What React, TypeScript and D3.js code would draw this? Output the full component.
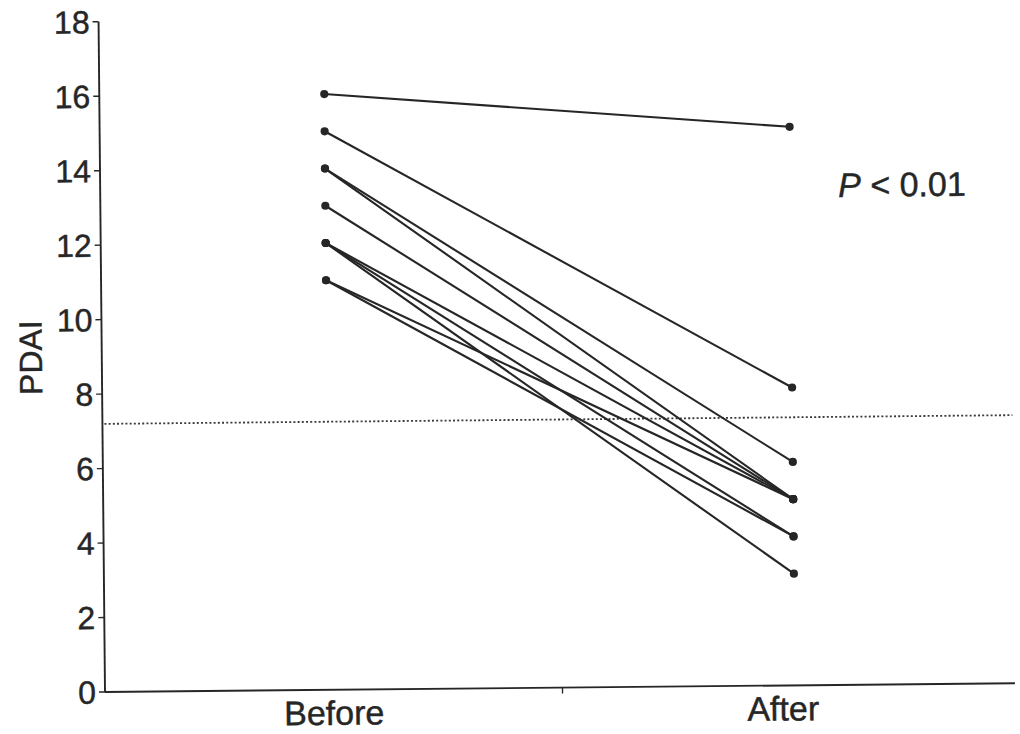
import React from 'react';
import * as d3 from 'd3';

const categories = ['Before', 'After'];
// paired patient scores (Before -> After)
const beforeValues = [16, 15, 14, 14, 13, 12, 12, 12, 11, 11];
const afterValues = [15, 8, 6, 5, 5, 5, 4, 3, 5, 4];
const yTicks = [0, 2, 4, 6, 8, 10, 12, 14, 16, 18];
const referenceValue = 7.2;
const yLabel = 'PDAI';
const pText = ' < 0.01';

const W = 1020;
const H = 734;
const FONT = '"Liberation Sans", Arial, Helvetica, sans-serif';
const INK = '#262626';

export default function App() {
  const y = d3.scaleLinear().domain([0, 18]).range([692, 21.7]);
  const x = d3.scalePoint<string>().domain(categories).range([330, 795]);
  const axisX = 105;
  const axisRight = 1015;
  const labelNudge: Record<string, number> = { Before: 4, After: -12 };
  const line = d3
    .line<[number, number]>()
    .x((d) => d[0])
    .y((d) => d[1]);

  return (
    <svg
      width={W}
      height={H}
      viewBox={`0 0 ${W} ${H}`}
      style={{ position: 'absolute', left: 0, top: 0, display: 'block', background: '#fff' }}
    >
      <rect x={0} y={0} width={W} height={H} fill="#fff" />
      <g transform={`rotate(-0.55, ${axisX}, ${y(0)})`} fontFamily={FONT} fill={INK}>
        {/* reference dotted line */}
        <line
          x1={axisX + 2}
          x2={axisRight}
          y1={y(referenceValue)}
          y2={y(referenceValue)}
          stroke="#3a3a3a"
          strokeWidth={1.8}
          strokeDasharray="2 2.2"
        />
        {/* y axis */}
        <line x1={axisX} x2={axisX} y1={y(18)} y2={y(0)} stroke={INK} strokeWidth={1.9} />
        {yTicks.map((t) => (
          <g key={t}>
            <line x1={axisX - 6} x2={axisX} y1={y(t)} y2={y(t)} stroke={INK} strokeWidth={1.4} />
            <text
              x={axisX - 9}
              y={y(t)}
              dy="0.36em"
              textAnchor="end"
              fontSize={32}
              stroke={INK}
              strokeWidth={0.45}
            >
              {t}
            </text>
          </g>
        ))}
        {/* x axis */}
        <line x1={axisX} x2={axisRight} y1={y(0)} y2={y(0)} stroke={INK} strokeWidth={1.9} />
        <line
          x1={((x('Before') as number) + (x('After') as number)) / 2}
          x2={((x('Before') as number) + (x('After') as number)) / 2}
          y1={y(0)}
          y2={y(0) + 6}
          stroke={INK}
          strokeWidth={1.4}
        />
        {categories.map((c) => (
          <text
            key={c}
            x={(x(c) as number) + labelNudge[c]}
            y={y(0) + 35}
            textAnchor="middle"
            fontSize={34}
            stroke={INK}
            strokeWidth={0.45}
          >
            {c}
          </text>
        ))}
        <text
          transform={`translate(45, 357) rotate(-90)`}
          textAnchor="middle"
          fontSize={32}
          stroke={INK}
          strokeWidth={0.45}
        >
          {yLabel}
        </text>
        {/* paired lines */}
        {beforeValues.map((b, i) => (
          <path
            key={'l' + i}
            d={
              line([
                [x('Before') as number, y(b)],
                [x('After') as number, y(afterValues[i])],
              ]) as string
            }
            stroke={INK}
            strokeWidth={2.1}
            fill="none"
          />
        ))}
        {beforeValues.map((b, i) => (
          <g key={'p' + i}>
            <circle cx={x('Before') as number} cy={y(b)} r={4.1} fill={INK} />
            <circle cx={x('After') as number} cy={y(afterValues[i])} r={4.1} fill={INK} />
          </g>
        ))}
        <text x={843} y={204} fontSize={34} stroke={INK} strokeWidth={0.45}>
          <tspan fontStyle="italic">P</tspan>
          {pText}
        </text>
      </g>
    </svg>
  );
}
